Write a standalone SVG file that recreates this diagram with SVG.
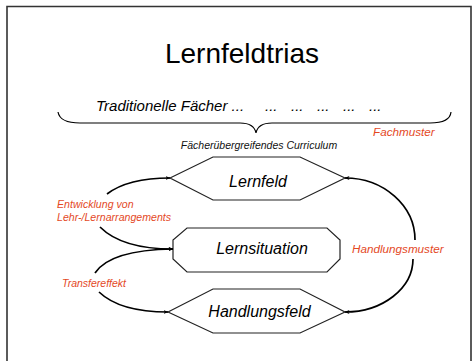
<svg xmlns="http://www.w3.org/2000/svg" width="475" height="361" viewBox="0 0 475 361">
<style>
text{font-family:"Liberation Sans",Arial,sans-serif;}
.it{font-style:italic;}
.red{fill:#E4491F;font-style:italic;}
.shape{fill:#fff;stroke:#222;stroke-width:1.2;}
.conn{fill:none;stroke:#000;stroke-width:1.7;}
</style>
<defs>
<marker id="ah" viewBox="0 0 10 8" refX="9" refY="4" markerWidth="5" markerHeight="4" orient="auto" markerUnits="userSpaceOnUse">
<path d="M0,0 L10,4 L0,8 L2.5,4 z" fill="#000"/>
</marker>
</defs>
<rect width="475" height="361" fill="#fff"/>
<path d="M7,361 L7,6.5 L471,6.5 L471,361" fill="none" stroke="#333" stroke-width="1.6"/>
<text x="242" y="63" font-size="28" text-anchor="middle">Lernfeldtrias</text>
<g id="faecher">
<text class="it" font-size="15" y="111"><tspan x="96">Traditionelle Fächer ...</tspan><tspan x="265">...</tspan><tspan x="291">...</tspan><tspan x="317">...</tspan><tspan x="343">...</tspan><tspan x="369">...</tspan></text>
<path d="M58,112 Q60,123 80,123 L240,123 Q254,123 256,133 Q258,123 272,123 L430,123 Q450,123 451,112" fill="none" stroke="#000" stroke-width="1.2"/>
<text class="red" x="373" y="136" font-size="11.7">Fachmuster</text>
<text class="it" x="259" y="149" font-size="10.5" text-anchor="middle" fill="#111">Fächerübergreifendes Curriculum</text>
</g>
<g id="lernfeld">
<polygon class="shape" points="170,178 213,157 300,157 345,178 300,200 213,200"/>
<text class="it" x="258" y="187" font-size="16" text-anchor="middle">Lernfeld</text>
</g>
<g id="lernsituation">
<polygon class="shape" points="187,228 327,228 340,240 340,259 327,272 187,272 173,259 173,240"/>
<text class="it" x="262" y="254" font-size="16" text-anchor="middle">Lernsituation</text>
</g>
<g id="handlungsfeld">
<polygon class="shape" points="168,312 213,289 300,289 345,312 300,333 213,333"/>
<text class="it" x="259.5" y="317" font-size="16" text-anchor="middle">Handlungsfeld</text>
</g>
<g id="connectors">
<path class="conn" d="M107,194 Q128,178 170,178" marker-end="url(#ah)"/>
<path class="conn" d="M100,227 Q122,249 173,249" marker-end="url(#ah)"/>
<path class="conn" d="M95,273 Q110,250 173,249" marker-end="url(#ah)"/>
<path class="conn" d="M99,292 Q120,312 168,312" marker-end="url(#ah)"/>
<path class="conn" d="M415,240 A70,62 0 0 0 345,178" marker-end="url(#ah)"/>
<path class="conn" d="M413,259 A68,53 0 0 1 345,312" marker-end="url(#ah)"/>
</g>
<g id="labels">
<text class="red" x="57" y="208" font-size="10.6">Entwicklung von</text>
<text class="red" x="57" y="221" font-size="10.6">Lehr-/Lernarrangements</text>
<text class="red" x="62" y="287" font-size="10.5">Transfereffekt</text>
<text class="red" x="352" y="253" font-size="11.7">Handlungsmuster</text>
</g>
</svg>
